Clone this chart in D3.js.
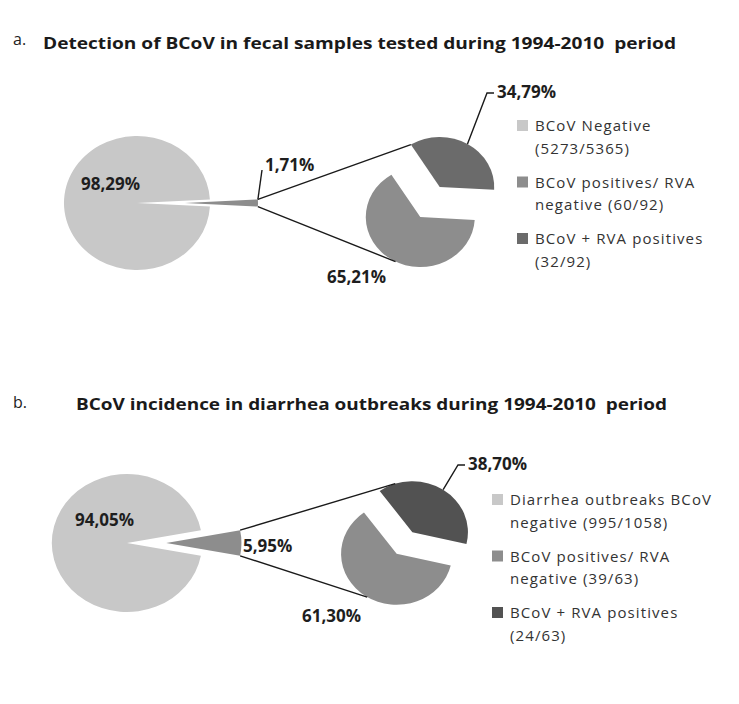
<!DOCTYPE html>
<html>
<head>
<meta charset="utf-8">
<script src="https://cdn.jsdelivr.net/npm/d3@7/dist/d3.min.js"></script>
<style>
  html, body { margin: 0; padding: 0; background: #fff; }
  svg { display: block; }
  text { white-space: pre; }
</style>
</head>
<body>
<svg id="chart" width="739" height="704"></svg>
<script>
// ---------------- DATA ----------------
const panelLetters = ["a.", "b."];
const panelTitles = [
  "Detection of BCoV in fecal samples tested during 1994-2010  period",
  "BCoV incidence in diarrhea outbreaks during 1994-2010  period"
];
// main pie: [negative, positive]
const mainValuesA = [98.29, 1.71];
const mainValuesB = [94.05, 5.95];
// secondary pie: [BCoV positives / RVA negative, BCoV + RVA positives]
const subValuesA = [65.21, 34.79];
const subValuesB = [61.30, 38.70];
const legendA = [
  ["BCoV Negative", "(5273/5365)"],
  ["BCoV positives/ RVA", "negative (60/92)"],
  ["BCoV + RVA positives", "(32/92)"]
];
const legendB = [
  ["Diarrhea outbreaks BCoV", "negative (995/1058)"],
  ["BCoV positives/ RVA", "negative (39/63)"],
  ["BCoV + RVA positives", "(24/63)"]
];
const colorsA = ["#c8c8c8", "#8d8d8d", "#6b6b6b"];
const colorsB = ["#c8c8c8", "#8d8d8d", "#525252"];

// ---------------- LAYOUT ----------------
const deg = Math.PI / 180;
const panels = [
  {
    letter: panelLetters[0], title: panelTitles[0], main: mainValuesA, sub: subValuesA,
    legend: legendA, colors: colorsA,
    letterPos: [13, 45], titlePos: [43, 49], titleLen: 633,
    sx: 1.09,
    mainC: [137, 203], mainR: 67, explode: 44,
    subC: [430, 202], subR: 50, subExplode: 17.5, subStart: -32,
    upperAng: -32, lowerAng: 207,
    labels: {
      big:   { pos: [81, 190] },
      small: { pos: [265, 171], leader: { ang: 87, pts: [[262, 170]] } },
      dark:  { pos: [497, 98], leader: { ang: null, pts: [[487, 93], [494, 93]] } },
      med:   { pos: [327, 283] }
    },
    legendX: 517, legendY: 131, legendStep: 56.5, legendLine: 22.5
  },
  {
    letter: panelLetters[1], title: panelTitles[1], main: mainValuesB, sub: subValuesB,
    legend: legendB, colors: colorsB,
    letterPos: [13, 408], titlePos: [76, 410], titleLen: 591,
    sx: 1.09,
    mainC: [127, 543], mainR: 69, explode: 36,
    subC: [404.5, 543], subR: 51, subExplode: 13, subStart: -36,
    upperAng: -18, lowerAng: 212,
    labels: {
      big:   { pos: [75, 526] },
      small: { pos: [243, 552] },
      dark:  { pos: [468, 470], leader: { ang: null, pts: [[458, 465], [465, 465]] } },
      med:   { pos: [302, 622] }
    },
    legendX: 492, legendY: 505, legendStep: 56.5, legendLine: 22.5
  }
];

const fmt = v => d3.format(".2f")(v).replace(".", ",") + "%";
const svg = d3.select("#chart");

function pt(c, r, ang, sx) {
  return [c[0] + sx * r * Math.sin(ang), c[1] - r * Math.cos(ang)];
}

panels.forEach(p => {
  const g = svg.append("g");

  // letter + title
  g.append("text").attr("x", p.letterPos[0]).attr("y", p.letterPos[1])
    .attr("font-family", "Open Sans, sans-serif").attr("font-size", 16)
    .attr("fill", "#222").text(p.letter);
  g.append("text").attr("x", p.titlePos[0]).attr("y", p.titlePos[1])
    .attr("xml:space", "preserve")
    .attr("font-family", "Open Sans, sans-serif").attr("font-size", 16.5)
    .attr("font-weight", "bold").attr("fill", "#1a1a1a")
    .attr("textLength", p.titleLen).attr("lengthAdjust", "spacingAndGlyphs")
    .text(p.title);

  // ---- main pie ----
  const smallFrac = p.main[1] / (p.main[0] + p.main[1]);
  const mStart = Math.PI / 2 - smallFrac * Math.PI;
  const mainPie = d3.pie().sort(null).value(d => d.v)
    .startAngle(mStart).endAngle(mStart + 2 * Math.PI);
  const mainArcs = mainPie([{ v: p.main[1], k: "small" }, { v: p.main[0], k: "big" }]);
  const mainArc = d3.arc().innerRadius(0).outerRadius(p.mainR);
  const mg = g.append("g").attr("transform", `translate(${p.mainC[0]},${p.mainC[1]}) scale(${p.sx},1)`);
  mainArcs.forEach(a => {
    const mid = (a.startAngle + a.endAngle) / 2;
    const off = a.data.k === "small" ? p.explode : 0;
    mg.append("path").attr("d", mainArc(a))
      .attr("transform", `translate(${off * Math.sin(mid)},${-off * Math.cos(mid)})`)
      .attr("fill", a.data.k === "small" ? p.colors[1] : p.colors[0]);
  });
  const smallA = mainArcs[0];
  const smallMid = (smallA.startAngle + smallA.endAngle) / 2;
  const smallC = [p.mainC[0] + p.sx * p.explode * Math.sin(smallMid), p.mainC[1] - p.explode * Math.cos(smallMid)];

  // ---- secondary pie ----
  const sStart = p.subStart * deg;
  const subPie = d3.pie().sort(null).value(d => d.v)
    .startAngle(sStart).endAngle(sStart + 2 * Math.PI);
  const subArcs = subPie([{ v: p.sub[1], k: "dark" }, { v: p.sub[0], k: "med" }]);
  const subArc = d3.arc().innerRadius(0).outerRadius(p.subR);
  const sg = g.append("g").attr("transform", `translate(${p.subC[0]},${p.subC[1]}) scale(${p.sx},1)`);
  const subCenters = {};
  subArcs.forEach(a => {
    const mid = (a.startAngle + a.endAngle) / 2;
    const dx = p.subExplode * Math.sin(mid), dy = -p.subExplode * Math.cos(mid);
    subCenters[a.data.k] = { c: [p.subC[0] + p.sx * dx, p.subC[1] + dy], mid: mid };
    sg.append("path").attr("d", subArc(a))
      .attr("transform", `translate(${dx},${dy})`)
      .attr("fill", a.data.k === "dark" ? p.colors[2] : p.colors[1]);
  });

  // ---- connector lines ----
  const lineStyle = sel => sel.attr("stroke", "#1a1a1a").attr("stroke-width", 1.4).attr("fill", "none");
  const up0 = pt(smallC, p.mainR, smallA.startAngle, p.sx);
  const up1 = pt(subCenters.dark.c, p.subR, p.upperAng * deg, p.sx);
  const lo0 = pt(smallC, p.mainR, smallA.endAngle, p.sx);
  const lo1 = pt(subCenters.med.c, p.subR, p.lowerAng * deg, p.sx);
  g.append("line").attr("x1", up0[0]).attr("y1", up0[1]).attr("x2", up1[0]).attr("y2", up1[1]).call(lineStyle);
  g.append("line").attr("x1", lo0[0]).attr("y1", lo0[1]).attr("x2", lo1[0]).attr("y2", lo1[1]).call(lineStyle);

  // ---- labels ----
  const labelVals = { big: p.main[0], small: p.main[1], dark: p.sub[1], med: p.sub[0] };
  Object.keys(p.labels).forEach(k => {
    const L = p.labels[k];
    if (L.leader) {
      let start;
      if (k === "small") start = pt(smallC, p.mainR, L.leader.ang * deg, p.sx);
      else start = pt(subCenters.dark.c, p.subR, subCenters.dark.mid, p.sx);
      const pts = [start].concat(L.leader.pts);
      g.append("path").attr("d", d3.line()(pts)).call(lineStyle);
    }
    g.append("text").attr("x", L.pos[0]).attr("y", L.pos[1])
      .attr("font-family", "Open Sans, sans-serif").attr("font-size", 17)
      .attr("font-weight", "bold").attr("fill", "#1e1e1e")
      .text(fmt(labelVals[k]));
  });

  // ---- legend ----
  p.legend.forEach((lines, i) => {
    const y = p.legendY + i * p.legendStep;
    g.append("rect").attr("x", p.legendX).attr("y", y - 11).attr("width", 11).attr("height", 11)
      .attr("fill", p.colors[i]);
    lines.forEach((t, j) => {
      g.append("text").attr("x", p.legendX + 18).attr("y", y + j * p.legendLine)
        .attr("font-family", "Open Sans, sans-serif").attr("font-size", 15)
        .attr("letter-spacing", 1.1).attr("fill", "#333").text(t);
    });
  });
});
</script>
</body>
</html>
